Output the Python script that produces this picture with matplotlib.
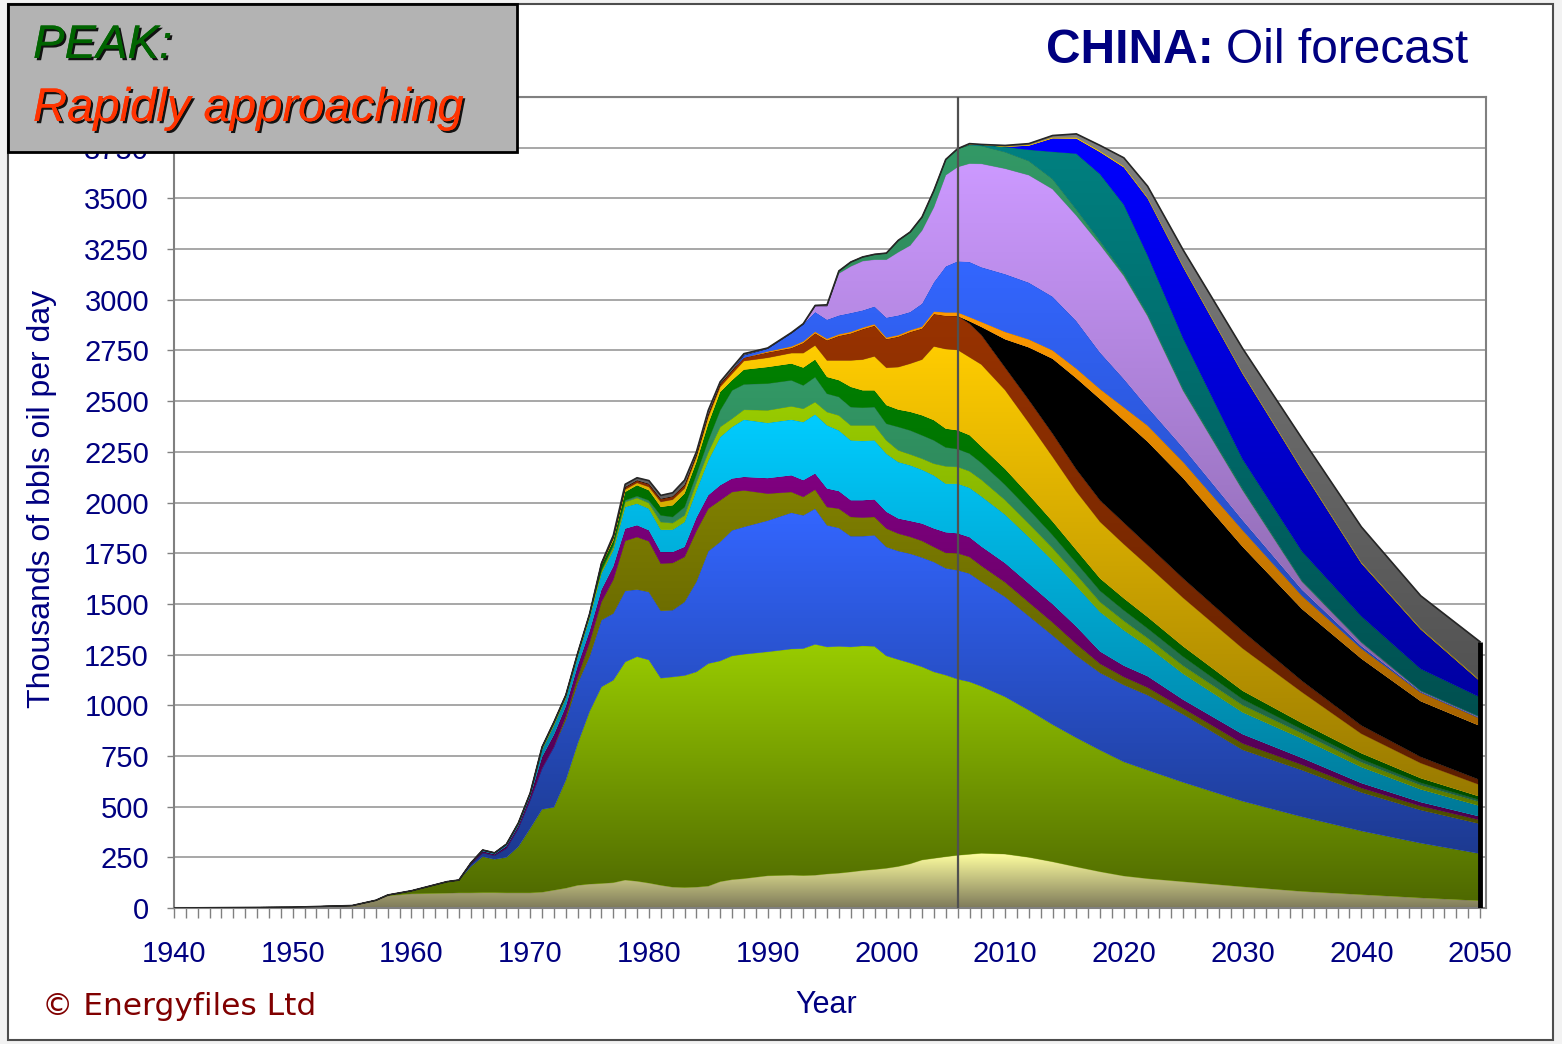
import numpy as np
import matplotlib
matplotlib.use("Agg")
import matplotlib.pyplot as plt
import matplotlib.patheffects as pe
from matplotlib.patches import Rectangle
from matplotlib.ticker import MultipleLocator
from matplotlib.colors import to_rgb
from matplotlib.path import Path

plt.rcParams['font.family'] = ['Liberation Sans', 'DejaVu Sans']

N = None
years = [1940, 1950, 1955, 1957, 1958, 1960, 1963, 1964,
         1965, 1966, 1967, 1968, 1969, 1970, 1971, 1972, 1973, 1974,
         1975, 1976, 1977, 1978, 1979, 1980, 1981, 1982, 1983, 1984,
         1985, 1986, 1987, 1988,
         1990, 1992, 1993, 1994, 1995, 1996, 1997, 1998, 1999,
         2000, 2001, 2002, 2003, 2004, 2005, 2006, 2007, 2008,
         2010, 2012, 2014, 2016, 2018, 2020, 2022,
         2025, 2030, 2035, 2040, 2045, 2050]

# Cumulative (stacked) upper edge of each field layer, thousand bbl/day, bottom -> top.
# None = layer not producing in that year.
top01_pale = [0, 4, 12, 38, 60, 70, 73, 75,
              75, 76, 76, 75, 75, 75, 78, 88, 98, 112,
              118, 121, 125, 138, 132, 123, 112, 103, 101, 103,
              108, 130, 140, 145,
              159, 162, 160, 162, 168, 172, 178, 185, 190,
              196, 205, 218, 237, 245, 253, 260, 265, 270,
              266, 250, 228, 203, 179, 158, 145,
              130, 105, 82, 66, 50, 36]
top02_yellowgreen = [N, N, N, N, 64, 85, 130, 138,
                     204, 253, 240, 250, 302, 393, 487, 497, 631, 812,
                     970, 1091, 1124, 1214, 1240, 1224, 1134, 1140, 1147, 1165,
                     1206, 1219, 1244, 1252,
                     1264, 1278, 1280, 1301, 1288, 1291, 1288, 1293, 1291,
                     1244, 1226, 1209, 1190, 1165, 1149, 1129, 1116, 1094,
                     1042, 976, 905, 840, 779, 721, 680,
                     620, 527, 450, 380, 320, 268]
top03_blue = [N, N, N, N, N, N, N, N,
              216, 272, 259, 294, 393, 532, 689, 795, 927, 1108,
              1240, 1420, 1453, 1564, 1571, 1559, 1466, 1469, 1510, 1610,
              1760, 1806, 1863, 1880,
              1911, 1950, 1937, 1970, 1888, 1875, 1834, 1834, 1839,
              1781, 1761, 1748, 1729, 1707, 1676, 1666, 1650, 1610,
              1535, 1440, 1345, 1245, 1160, 1100, 1050,
              955, 780, 680, 570, 483, 415]
top04_olive = [N, N, N, N, N, N, N, N,
               N, N, N, N, N, N, N, N, 945, 1140,
               1310, 1510, 1620, 1811, 1830, 1809, 1699, 1702, 1732, 1860,
               1970, 2011, 2052, 2060,
               2044, 2052, 2028, 2064, 1978, 1970, 1929, 1926, 1929,
               1872, 1847, 1831, 1811, 1781, 1752, 1750, 1732, 1688,
               1607, 1508, 1409, 1303, 1205, 1140, 1088,
               985, 812, 707, 592, 503, 434]
top05_purple = [N, N, N, N, N, N, N, N,
                222, 280, 265, 305, 405, 552, 745, 855, 995, 1195,
                1365, 1570, 1685, 1871, 1888, 1863, 1756, 1756, 1781, 1925,
                2036, 2085, 2118, 2126,
                2120, 2134, 2110, 2143, 2069, 2056, 2011, 2011, 2015,
                1954, 1921, 1909, 1896, 1872, 1853, 1848, 1829, 1783,
                1701, 1600, 1499, 1388, 1265, 1195, 1143,
                1027, 857, 740, 616, 522, 451]
top06_cyan = [N, N, N, N, N, N, N, N,
              N, 286, 272, 315, 412, 562, 780, 900, 1035, 1240,
              1430, 1650, 1765, 1978, 1995, 1970, 1866, 1866, 1904, 2060,
              2208, 2323, 2373, 2409,
              2393, 2409, 2397, 2435, 2381, 2356, 2307, 2304, 2307,
              2241, 2200, 2184, 2162, 2134, 2093, 2093, 2073, 2031,
              1941, 1830, 1714, 1588, 1460, 1370, 1290,
              1155, 965, 835, 695, 585, 503]
top07_lime = [N, N, N, N, N, N, N, N,
              N, N, N, N, 419, 567, 794, 917, 1050, 1257,
              1450, 1665, 1780, 2003, 2023, 1998, 1904, 1899, 1937, 2100,
              2249, 2373, 2414, 2458,
              2455, 2475, 2463, 2496, 2447, 2430, 2381, 2381, 2381,
              2307, 2258, 2238, 2217, 2192, 2179, 2176, 2155, 2113,
              2013, 1896, 1776, 1645, 1510, 1417, 1332,
              1195, 1001, 862, 719, 606, 523]
top08_seagreen = [N, N, N, N, N, N, N, N,
                  N, N, N, N, N, N, N, N, N, N,
                  N, N, 1790, 2011, 2032, 2011, 1937, 1929, 1978, 2140,
                  2307, 2455, 2553, 2583,
                  2587, 2603, 2578, 2619, 2537, 2521, 2471, 2468, 2471,
                  2389, 2373, 2356, 2332, 2307, 2272, 2264, 2242, 2196,
                  2088, 1966, 1840, 1703, 1565, 1469, 1380,
                  1240, 1031, 882, 735, 618, 533]
top09_green = [N, N, N, N, N, N, N, N,
               N, N, N, N, N, N, N, N, N, N,
               N, 1690, 1812, 2052, 2085, 2060, 1978, 1986, 2044, 2200,
               2389, 2545, 2603, 2655,
               2668, 2685, 2665, 2705, 2619, 2603, 2570, 2553, 2553,
               2480, 2458, 2447, 2430, 2406, 2364, 2356, 2332, 2276,
               2165, 2038, 1906, 1765, 1625, 1527, 1435,
               1290, 1071, 912, 763, 640, 549]
top10_gold = [N, N, N, N, N, N, N, N,
              N, N, N, N, N, N, N, N, N, N,
              N, N, 1822, 2064, 2097, 2077, 2003, 2014, 2069, 2225,
              2422, 2570, 2635, 2698,
              2714, 2737, 2737, 2775, 2701, 2701, 2701, 2705, 2721,
              2665, 2668, 2685, 2705, 2770, 2757, 2753, 2717, 2681,
              2555, 2393, 2226, 2055, 1905, 1795, 1690,
              1530, 1281, 1065, 860, 715, 607]
top11_brown = [N, N, N, N, N, N, N, N,
               N, N, N, N, N, N, N, N, N, N,
               N, 1700, 1830, 2077, 2110, 2093, 2019, 2031, 2088, 2238,
               2438, 2586, 2652, 2714,
               2740, 2762, 2787, 2835, 2800, 2822, 2834, 2855, 2872,
               2806, 2818, 2841, 2858, 2930, 2921, 2920, 2882, 2826,
               2665, 2505, 2339, 2163, 2010, 1900, 1790,
               1625, 1365, 1120, 900, 745, 631]
top12_black = [N, N, N, N, N, N, N, N,
               N, N, N, N, N, N, N, N, N, N,
               N, N, N, N, N, N, N, N, N, N,
               N, N, N, N,
               N, N, N, N, N, N, N, N, N,
               N, N, N, N, N, N, N, 2894, 2866,
               2805, 2765, 2709, 2613, 2510, 2405, 2300,
               2120, 1782, 1475, 1230, 1020, 898]
top13_orange = [N, N, N, N, N, N, N, N,
                N, N, N, N, N, N, N, N, N, N,
                N, N, N, N, N, N, N, N, N, N,
                N, N, N, N,
                2745, 2770, 2795, 2843, 2808, 2830, 2842, 2863, 2880,
                2814, 2826, 2850, 2868, 2942, 2938, 2938, 2915, 2891,
                2842, 2805, 2751, 2661, 2560, 2470, 2380,
                2200, 1864, 1540, 1280, 1063, 935]
top14_blue2 = [N, N, N, N, N, N, N, N,
               N, N, N, N, N, N, N, N, N, N,
               N, N, N, N, N, N, N, N, N, N,
               N, N, N, 2728,
               2760, 2836, 2880, 2940, 2902, 2923, 2935, 2948, 2967,
               2912, 2923, 2940, 2981, 3087, 3165, 3190, 3187, 3161,
               3127, 3085, 3016, 2896, 2740, 2610, 2470,
               2270, 1913, 1570, 1292, 1067, 938]
top15_lavender = [N, N, N, N, N, N, N, N,
                  N, N, N, N, N, N, N, N, N, N,
                  N, N, N, N, N, N, N, N, N, N,
                  N, N, N, N,
                  N, N, N, 2970, 2970, 3130, 3165, 3191, 3198,
                  3198, 3235, 3268, 3342, 3457, 3615, 3655, 3672, 3671,
                  3647, 3615, 3546, 3416, 3272, 3118, 2920,
                  2551, 2061, 1610, 1310, 1070, 941]
top16_seagreen2 = [N, N, N, N, N, N, N, N,
                   N, N, N, N, N, N, N, N, N, N,
                   N, N, N, N, N, N, N, N, N, N,
                   N, N, N, N,
                   N, N, N, N, N, 3142, 3186, 3211, 3224,
                   3230, 3293, 3334, 3408, 3539, 3692, 3745, 3762, 3759,
                   3729, 3685, 3596, 3446, 3290, 3130, 2930,
                   2560, 2069, 1615, 1313, 1072, 943]
top17_teal = [N, N, N, N, N, N, N, N,
              N, N, N, N, N, N, N, N, N, N,
              N, N, N, N, N, N, N, N, N, N,
              N, N, N, N,
              N, N, N, N, N, N, N, N, N,
              N, N, N, N, N, N, N, 3766, 3764,
              3754, 3740, 3730, 3721, 3620, 3470, 3220,
              2810, 2215, 1760, 1440, 1180, 1040]
top18_deepblue = [N, N, N, N, N, N, N, N,
                  N, N, N, N, N, N, N, N, N, N,
                  N, N, N, N, N, N, N, N, N, N,
                  N, N, N, N,
                  N, N, N, N, N, N, N, N, N,
                  N, N, N, N, N, N, N, N, N,
                  N, 3760, 3796, 3795, 3728, 3653, 3500,
                  3160, 2635, 2160, 1700, 1374, 1118]
top19_yellow = [N, N, N, N, N, N, N, N,
                N, N, N, N, N, N, N, N, N, N,
                N, N, N, N, N, N, N, N, N, N,
                N, N, N, N,
                N, N, N, N, N, N, N, N, N,
                N, N, N, N, N, N, N, 3768, 3765,
                3757, 3764, 3801, 3801, 3734, 3659, 3506,
                3166, 2641, 2166, 1706, 1380, 1124]
top20_gray = [N, N, N, N, N, N, N, N,
              N, N, N, N, N, N, N, N, N, N,
              N, N, 1838, 2090, 2122, 2108, 2035, 2048, 2110, 2250,
              2455, 2595, 2665, 2734,
              2762, 2838, 2882, 2972, 2975, N, N, N, N,
              N, N, N, N, N, N, N, 3770, 3766,
              3761, 3770, 3810, 3818, 3761, 3700, 3560,
              3245, 2760, 2316, 1880, 1540, 1313]

series_tops = [top01_pale, top02_yellowgreen, top03_blue, top04_olive, top05_purple,
               top06_cyan, top07_lime, top08_seagreen, top09_green, top10_gold,
               top11_brown, top12_black, top13_orange, top14_blue2, top15_lavender,
               top16_seagreen2, top17_teal, top18_deepblue, top19_yellow, top20_gray]
top_colors = ['#FFFFA0', '#99CC00', '#3366FF', '#808000', '#800080',
              '#00CCFF', '#99CC00', '#339966', '#008000', '#FFCC00',
              '#993300', '#000000', '#FF9900', '#3366FF', '#CC99FF',
              '#339966', '#008080', '#0000FF', '#FFCC00', '#808080']
bottom_colors = ['#7E7A5A'] + [None] * 19

ytick_values = list(range(0, 3751, 250))
xtick_values = list(range(1940, 2051, 10))

W, H = 1562, 1044
def fx(px):
    return px / W
def fy(py):
    return 1 - py / H

fig = plt.figure(figsize=(W / 100, H / 100), dpi=100)
fig.patch.set_facecolor('#F2F2F2')
fig.add_artist(Rectangle((fx(8), fy(1040)), (1553 - 8) / W, (1040 - 4) / H,
                         transform=fig.transFigure, facecolor='white',
                         edgecolor='#4d4d4d', lw=1.5, zorder=-5))

ax = fig.add_axes([fx(174), fy(908), (1486 - 174) / W, (908 - 97) / H])
ax.set_facecolor('white')
ax.set_axisbelow(True)

x = np.array(years, dtype=float)
prev = np.zeros(len(x))
tops = []
for arr in series_tops:
    a = np.array([np.nan if v is None else v for v in arr], dtype=float)
    a = np.where(np.isnan(a), prev, a)
    a = np.maximum(a, prev)
    tops.append(a)
    prev = a

tgrid = np.linspace(0, 1, 256)[:, None, None]
for k, hi in enumerate(tops):
    lo = tops[k - 1] if k else np.zeros_like(hi)
    if np.all(hi - lo <= 0):
        continue
    z = 2 + k * 0.01
    col = top_colors[k]
    poly = ax.fill_between(x, lo, hi, facecolor=col, edgecolor='none', lw=0, zorder=z)
    if col != '#000000':
        ctop = np.array(to_rgb(col))
        cbot = np.array(to_rgb(bottom_colors[k])) if bottom_colors[k] else ctop * 0.5
        img = cbot + (ctop - cbot) * tgrid
        img = np.repeat(img, 2, axis=1)
        im = ax.imshow(img, extent=[x[0], x[-1], 0, hi.max()], origin='lower',
                       aspect='auto', interpolation='bilinear', zorder=z + 0.004)
        path = Path.make_compound_path(*poly.get_paths())
        im.set_clip_path(path, transform=ax.transData)
    ax.plot(x, hi, color='black', alpha=0.22, lw=0.6, zorder=z + 0.006)

total = tops[-1]
ax.plot(x, total, color='#262626', lw=1.2, zorder=6)
ax.vlines(x[-1], 0, total[-1], color='black', lw=3.5, zorder=6)
ax.axvline(2006, color='#505050', lw=1.6, zorder=6)

ax.set_xlim(1940, 2050.5)
ax.set_ylim(0, 4000)
ax.set_yticks(ytick_values)
ax.set_xticks(xtick_values)
ax.xaxis.set_minor_locator(MultipleLocator(1))
ax.grid(axis='y', color='#8f8f8f', lw=1.1)
ax.axhline(4000, color='#808080', lw=1.5, zorder=1)
ax.tick_params(axis='x', which='both', direction='out', length=7, width=1,
               color='#808080', pad=16, labelsize=21, labelcolor='#000080')
ax.tick_params(axis='y', which='both', direction='out', length=5, width=1,
               color='#808080', pad=13, labelsize=21, labelcolor='#000080')
for s in ax.spines.values():
    s.set_color('#808080')
    s.set_linewidth(1.5)

fig.text(fx(42), fy(499), 'Thousands of bbls oil per day', rotation=90,
         ha='center', va='center', fontsize=23, color='#000080')
fig.text(fx(826), fy(1013), 'Year', ha='center', va='baseline',
         fontsize=22, color='#000080')
fig.text(fx(42), fy(1015), '\u00a9 Energyfiles Ltd', ha='left', va='baseline',
         fontsize=22.5, color='#800000', family=['DejaVu Sans'])

t2 = fig.text(fx(1468), fy(63), 'Oil forecast', ha='right', va='baseline',
              fontsize=34.5, color='#000080')
fig.canvas.draw()
bb = t2.get_window_extent()
fig.text((bb.x0 - 12) / fig.bbox.width, fy(63), 'CHINA:', ha='right', va='baseline',
         fontsize=34.5, fontweight='bold', color='#000080')

fig.add_artist(Rectangle((fx(8), fy(152)), (517 - 8) / W, (152 - 4) / H,
                         transform=fig.transFigure, facecolor='#B3B3B3',
                         edgecolor='black', lw=2, zorder=10))
shadow = [pe.withSimplePatchShadow(offset=(1.6, -1.6), shadow_rgbFace='black', alpha=0.9),
          pe.Normal()]
fig.text(fx(33), fy(58), 'PEAK:', fontsize=34, style='italic', color='#006400',
         va='baseline', ha='left', path_effects=shadow, zorder=12)
fig.text(fx(33), fy(121), 'Rapidly approaching', fontsize=34, style='italic',
         color='#FF3300', va='baseline', ha='left', path_effects=shadow, zorder=12)

fig.savefig('out.png', dpi=100, facecolor=fig.get_facecolor())
